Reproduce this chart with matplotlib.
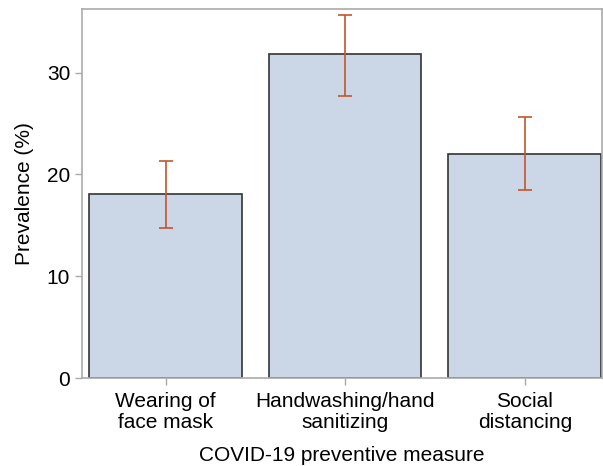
import numpy as np
import matplotlib.pyplot as plt

plt.rcParams["font.family"] = ["Liberation Sans", "DejaVu Sans"]

# prevalence of each preventive measure with 95% CI
measures = ["Wearing of\nface mask", "Handwashing/hand\nsanitizing", "Social\ndistancing"]
prevalence = [18.1, 31.8, 22.0]
ci_low = [14.7, 27.7, 18.5]
ci_high = [21.3, 35.7, 25.6]

x = np.arange(len(measures))
err = [np.array(prevalence) - np.array(ci_low), np.array(ci_high) - np.array(prevalence)]

fig = plt.figure(figsize=(6.03, 4.66), dpi=100)
ax = fig.add_axes([82/603, 1 - 378/466, 520/603, (378 - 9.5)/466])

ax.bar(x, prevalence, width=0.85, color="#cbd6e6", edgecolor="#333333", linewidth=1.2, zorder=2)
ax.errorbar(x, prevalence, yerr=err, fmt="none", ecolor="#c4562c", elinewidth=1.2,
            capsize=5, capthick=1.2, zorder=3)

ax.set_xlim(-0.465, 2.43)
ax.set_ylim(0, 36.2)
ax.set_yticks([0, 10, 20, 30])
ax.set_xticks(x)
ax.set_xticklabels(measures, fontsize=15, linespacing=1.15)
ax.tick_params(axis="y", labelsize=15, color="#aaaaaa", length=5, width=1)
ax.tick_params(axis="x", color="#aaaaaa", length=5, width=1, pad=5)
ax.set_ylabel("Prevalence (%)", fontsize=15, labelpad=9)
ax.set_xlabel("COVID-19 preventive measure", fontsize=15, labelpad=10)

for s in ["left", "top", "bottom", "right"]:
    ax.spines[s].set_color("#aaaaaa")
    ax.spines[s].set_linewidth(1.2)

fig.savefig("out.png", dpi=100)
